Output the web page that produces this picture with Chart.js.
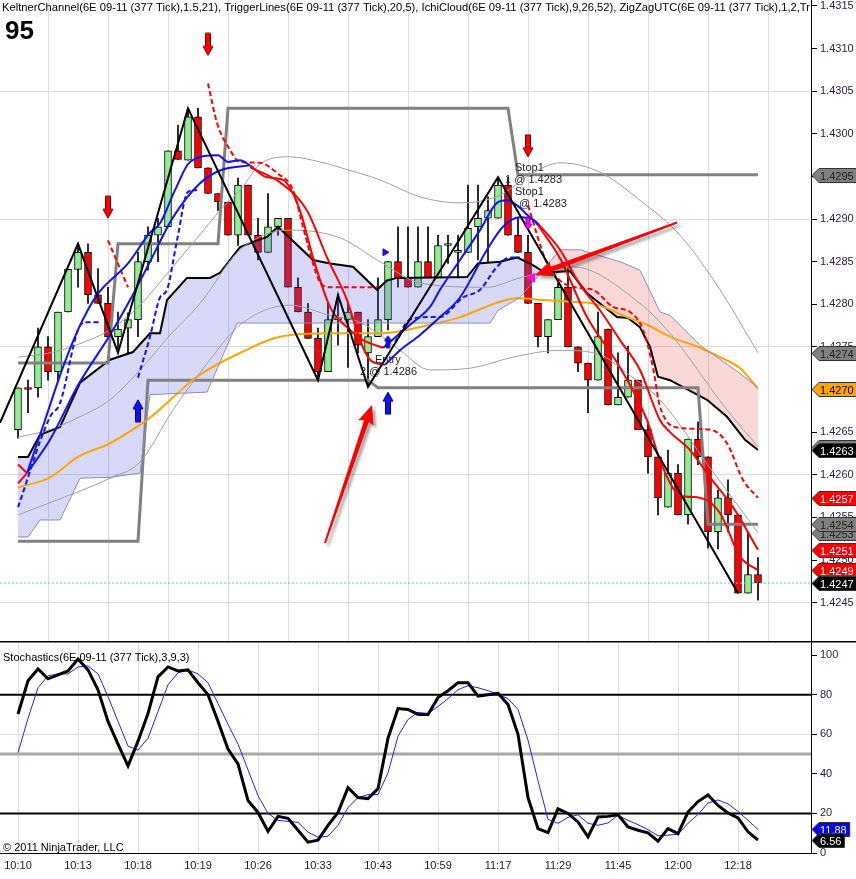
<!DOCTYPE html>
<html>
<head>
<meta charset="utf-8">
<script src="https://cdn.jsdelivr.net/npm/chart.js@4.4.0/dist/chart.umd.min.js"></script>
<style>
html, body { margin: 0; padding: 0; background: #fff; }
#wrap { position: relative; width: 856px; height: 879px; overflow: hidden; background: #fff; }
#priceChart { position: absolute; left: 0; top: 0; }
#stochChart { position: absolute; left: 0; top: 641px; }
</style>
</head>
<body>
<div id="wrap">
  <canvas id="priceChart" width="856" height="641"></canvas>
  <canvas id="stochChart" width="856" height="238"></canvas>
</div>
<script>
'use strict';
// candles (377 tick bars)
const barOpen = [
  1.42653,1.42702,1.42702,1.42750,1.42721,1.42791,1.42841,1.42861,1.42811,1.42801,
  1.42762,1.42772,1.42782,1.42850,1.42881,1.42891,1.42980,1.42969,1.43020,1.42960,
  1.42930,1.42920,1.42881,1.42940,1.42881,1.42861,1.42891,1.42901,1.42820,1.42791,
  1.42760,1.42721,1.42782,1.42782,1.42791,1.42743,1.42762,1.42782,1.42850,1.42831,
  1.42820,1.42850,1.42831,1.42869,1.42861,1.42861,1.42891,1.42901,1.42901,1.42940,
  1.42881,1.42861,1.42801,1.42762,1.42782,1.42820,1.42750,1.42731,1.42711,1.42771,
  1.42682,1.42691,1.42711,1.42653,1.42621,1.42562,1.42602,1.42553,1.42642,1.42621,
  1.42533,1.42573,1.42553,1.42461,1.42483];
const barHigh = [
  1.42702,1.42711,1.42772,1.42762,1.42791,1.42841,1.42871,1.42871,1.42842,1.42820,
  1.42791,1.42790,1.42861,1.42891,1.42901,1.42980,1.43010,1.43030,1.43030,1.42960,
  1.42930,1.42920,1.42948,1.42940,1.42901,1.42930,1.42901,1.42901,1.42831,1.42801,
  1.42772,1.42801,1.42811,1.42801,1.42791,1.42782,1.42831,1.42850,1.42891,1.42891,
  1.42891,1.42891,1.42881,1.42881,1.42881,1.42940,1.42940,1.42926,1.42949,1.42949,
  1.42901,1.42881,1.42801,1.42782,1.42825,1.42842,1.42750,1.42731,1.42791,1.42771,
  1.42743,1.42751,1.42711,1.42662,1.42621,1.42629,1.42612,1.42642,1.42662,1.42621,
  1.42582,1.42594,1.42553,1.42533,1.42503];
const barLow = [
  1.42643,1.42673,1.42691,1.42711,1.42711,1.42791,1.42820,1.42801,1.42801,1.42762,
  1.42743,1.42743,1.42762,1.42840,1.42850,1.42891,1.42970,1.42969,1.42960,1.42930,
  1.42910,1.42881,1.42869,1.42881,1.42852,1.42861,1.42881,1.42820,1.42791,1.42760,
  1.42711,1.42721,1.42752,1.42726,1.42743,1.42703,1.42762,1.42770,1.42820,1.42820,
  1.42820,1.42831,1.42831,1.42848,1.42831,1.42861,1.42852,1.42850,1.42901,1.42881,
  1.42861,1.42801,1.42750,1.42743,1.42782,1.42750,1.42721,1.42673,1.42711,1.42682,
  1.42682,1.42691,1.42653,1.42602,1.42553,1.42562,1.42553,1.42542,1.42612,1.42514,
  1.42513,1.42533,1.42461,1.42461,1.42453];
const barClose = [
  1.42702,1.42700,1.42750,1.42721,1.42791,1.42841,1.42861,1.42811,1.42801,1.42762,
  1.42771,1.42782,1.42850,1.42881,1.42891,1.42980,1.42970,1.43020,1.42960,1.42930,
  1.42920,1.42881,1.42940,1.42881,1.42861,1.42891,1.42901,1.42820,1.42791,1.42760,
  1.42721,1.42782,1.42784,1.42791,1.42752,1.42762,1.42782,1.42850,1.42831,1.42820,
  1.42850,1.42831,1.42869,1.42870,1.42862,1.42889,1.42901,1.42910,1.42940,1.42881,
  1.42861,1.42801,1.42762,1.42782,1.42820,1.42750,1.42731,1.42711,1.42762,1.42682,
  1.42691,1.42711,1.42653,1.42621,1.42573,1.42602,1.42553,1.42642,1.42621,1.42533,
  1.42573,1.42553,1.42461,1.42483,1.42473];

// stochastics(3,9,3)
const stochK = [
  70.2,87,93,88,90,92,98,92.5,82.5,66.5, 55,44,56.5,70.5,89,94,92,92.5,86,80,
  66.5,52.5,45,26.5,20.5,11,18.5,17.5,11.5,5.5, 6.5,14,20.5,33,28,27.5,32.5,58,73,72.5,
  70,70,78.5,82,86,86,79.3,80,80.7,75, 60,28,12.3,10.3,22.3,20,15.7,8.2,18.2,18.5,
  19.3,13.2,11.5,10.2,6,12.3,9.8,20.7,26,29.3, 24,20.2,17.7,10.7,6.56];
const stochD = [
  50.7,68,83.5,89.5,90.5,90.5,94,94.5,90.5,79, 66.5,54,52,58,71.5,85,91,92.5,90.5,86,
  75.5,65,55,42,29,20,16.5,16,15.5,10.5, 8,8.5,14,23,28,29.5,29.5,40.5,59,67.5,
  71,70.5,74,78,82.5,84.5,83.5,82,80.2,78, 72.5,57,36.5,17,15,18,19.3,15,14,15.2,
  19,16.5,14.3,11.8,8.7,9,9.5,15,19.5,25.2, 26.8,24.8,21,16.5,11.88];
const stochLevels = [80, 50, 20];

// axes
const timeLabels = ['10:10','10:13','10:18','10:19','10:26','10:33','10:43','10:59','11:17','11:29','11:45','12:00','12:18'];
const timeTickBars = [0, 6, 12, 18, 24, 30, 36, 42, 48, 54, 60, 66, 72];
const priceTicks = [1.4245,1.4250,1.4255,1.4260,1.4265,1.4270,1.4275,1.4280,1.4285,1.4290,1.4295,1.4300,1.4305,1.4310,1.4315];
const priceGrid = [1.4245, 1.4260, 1.4275, 1.4290, 1.4305];
const stochTicks = [0, 20, 40, 60, 80, 100];
const stochGrid = [60];

// indicator lines as [bar, price]
const keltUpper = [[0,1.42738],[3.2,1.42743],[6,1.42753],[9.2,1.42770],[12.2,1.42799],[15.2,1.42840],[18,1.42879],[20.2,1.42910],[22.2,1.42934],[24.5,1.42967],[27.2,1.42973],[30.2,1.42967],[33.2,1.42957],[36.2,1.42946],[40.2,1.42926],[44.2,1.42919],[48.2,1.42928],[51.2,1.42952],[54.2,1.42966],[58.2,1.42955],[62.2,1.42922],[66.2,1.42881],[70.2,1.42817],[74,1.42743]];
const keltMid = [[0,1.42644],[3.2,1.42653],[6,1.42667],[9.2,1.42688],[12.2,1.42723],[15.2,1.42764],[18.2,1.42801],[22.2,1.42864],[27.2,1.42887],[32.2,1.42878],[36.2,1.42850],[40.2,1.42825],[46.9,1.42820],[50.2,1.42831],[55.5,1.42844],[62.2,1.42801],[65.2,1.42766],[70.9,1.42676],[74,1.42633]];
const keltLower = [[0,1.42553],[6,1.42580],[9.2,1.42596],[12.2,1.42615],[15.5,1.42676],[19.2,1.42735],[22.2,1.42776],[27.2,1.42799],[31.2,1.42787],[34.2,1.42779],[38.2,1.42746],[41.2,1.42723],[45.2,1.42725],[49.5,1.42738],[54.2,1.42746],[58.2,1.42741],[60.9,1.42719],[64.2,1.42688],[69.2,1.42608],[74,1.42532]];
const spanA = [[0,1.42527],[1,1.42527],[2.2,1.42547],[4.2,1.42547],[6.2,1.42596],[9.2,1.42597],[12.2,1.42602],[13.2,1.42694],[18.9,1.42697],[21.9,1.42778],[47.2,1.42778],[48,1.42793],[50.2,1.42808],[51.5,1.42826],[54.2,1.42864],[56.2,1.42864],[60.2,1.42850],[62.2,1.42840],[64.2,1.42791],[65.2,1.42787],[68.2,1.42752],[72.2,1.42719],[74,1.42702]];
const spanB = [[0,1.42621],[1,1.42621],[2.2,1.42647],[4.2,1.42656],[6.2,1.42708],[9.2,1.42735],[11.5,1.42744],[13.2,1.42766],[14.2,1.42766],[14.9,1.42805],[16.9,1.42831],[19.2,1.42831],[20.2,1.42837],[22.2,1.42867],[23.5,1.42873],[24.9,1.42879],[26,1.42891],[29.5,1.42852],[31.2,1.42848],[33.5,1.42844],[35.9,1.42817],[36.9,1.42828],[37.9,1.42831],[44.9,1.42832],[46,1.42848],[48.2,1.42850],[49.9,1.42855],[51.5,1.42846],[52.7,1.42837],[55.2,1.42839],[56.9,1.42813],[58.2,1.42801],[59.9,1.42785],[61,1.42784],[62.2,1.42773],[63.2,1.42750],[64,1.42715],[65.2,1.42711],[68.9,1.42688],[70.9,1.42668],[72.7,1.42641],[74,1.42629]];
const orangeLine = [[0,1.42585],[3.2,1.42597],[6,1.42621],[9.2,1.42637],[13.2,1.42667],[17.9,1.42715],[22.2,1.42743],[26.2,1.42762],[31.2,1.42766],[36.2,1.42766],[41.2,1.42776],[44.2,1.42785],[48.2,1.42803],[49.9,1.42807],[52.7,1.42805],[55.2,1.42803],[57.5,1.42801],[60.9,1.42785],[62.9,1.42776],[65.2,1.42762],[68.2,1.42749],[70.2,1.42738],[72.2,1.42725],[74,1.42701]];
const upperBand = [[0,1.42731],[9,1.42731],[10,1.42871],[20,1.42871],[21,1.43030],[49,1.43030],[50,1.42952],[74,1.42952]];
const lowerBand = [[0,1.42522],[12,1.42522],[13,1.42711],[35,1.42711],[36,1.42702],[68,1.42702],[69,1.42542],[74,1.42542]];
const zigzag = [[-1.8,1.42661],[6,1.42871],[10,1.42743],[17,1.43030],[30,1.42711],[32,1.42811],[35,1.42703],[48,1.42949],[72,1.42461]];

// trigger lines, split where the colour flips
const redA0 = [[0,1.42612],[0.9,1.42602]];
const redB0 = [[0,1.42590],[0.9,1.42602]];
const blueA1 = [[0.9,1.42602],[2.7,1.42664],[4.4,1.42723],[6,1.42770],[7.9,1.42811],[11,1.42848],[13.2,1.42884],[14.2,1.42895],[15.7,1.42934],[17.2,1.42967],[20,1.42975],[21,1.42967],[22.2,1.42969],[23.2,1.42963]];
const blueB1 = [[0.9,1.42602],[3.2,1.42641],[6,1.42705],[9.2,1.42764],[11.2,1.42805],[13.2,1.42850],[15.5,1.42902],[18.2,1.42942],[20.2,1.42957],[23.2,1.42963]];
const redA1 = [[23.2,1.42963],[24.9,1.42949],[26.5,1.42946],[28.2,1.42910],[29.5,1.42855],[31.2,1.42797],[32.9,1.42773],[34.5,1.42758],[36.5,1.42749]];
const redB1 = [[23.2,1.42961],[26.2,1.42943],[28.9,1.42910],[30.9,1.42855],[32.9,1.42805],[34.2,1.42758],[35.2,1.42735],[36.7,1.42729]];
const blueA2 = [[36.5,1.42749],[39.2,1.42776],[41.2,1.42797],[42.2,1.42817],[44.2,1.42852],[46.2,1.42887],[47.9,1.42919],[48.9,1.42922],[49.9,1.42916],[51.2,1.42902],[51.9,1.42896]];
const blueB2 = [[36.7,1.42729],[38.2,1.42746],[40.2,1.42764],[42.2,1.42785],[44.2,1.42808],[46.9,1.42864],[48.5,1.42891],[50.2,1.42902],[51.5,1.42899],[52,1.42893]];
const redA2 = [[51.9,1.42896],[54.2,1.42864],[56.2,1.42823],[58.2,1.42793],[60.2,1.42758],[62.2,1.42723],[64.2,1.42664],[65.2,1.42650],[67.2,1.42629],[69.2,1.42597],[71.5,1.42562],[74,1.42512]];
const redB2 = [[52,1.42893],[54.2,1.42854],[56.9,1.42785],[60.2,1.42726],[62.9,1.42664],[64.2,1.42617],[66.2,1.42576],[68.2,1.42573],[70.2,1.42555],[72.2,1.42504],[74,1.42488]];
const blueDash1 = [[0,1.42562],[3.2,1.42668],[4.2,1.42684],[6,1.42770],[6.7,1.42779],[8.2,1.42779]];
const redDash1 = [[9,1.42875],[11,1.42820]];
const blueDash2 = [[12,1.42714],[13.2,1.42762],[14.2,1.42808],[14.9,1.42817],[15.9,1.42875],[17,1.42932],[17.9,1.42934]];
const redDash2 = [[19,1.43059],[19.9,1.43013],[21.2,1.42981],[22.2,1.42967],[24.2,1.42966],[25.9,1.42954],[27.5,1.42934],[28.5,1.42891],[29.5,1.42848],[30.2,1.42826],[31.2,1.42820],[35.9,1.42820]];
const blueDash3 = [[37.7,1.42756],[39.2,1.42782],[41.2,1.42785],[42.2,1.42785],[44.5,1.42808],[46.2,1.42817],[47.9,1.42844],[49.2,1.42855],[50.2,1.42855]];
const redDash3 = [[51,1.42916],[52.9,1.42848],[54.2,1.42828],[56.2,1.42819],[57.5,1.42817],[59.5,1.42797],[61.2,1.42791],[62.5,1.42770],[63.5,1.42726],[64.2,1.42680],[66.2,1.42655],[69.2,1.42653],[70.9,1.42637],[72.5,1.42594],[74,1.42573]];

// signals and markers
const sellArrows = [[19,1.43105],[9,1.42914],[51,1.42986]];
const buyArrows = [[12,1.42675],[37,1.42684]];
const entryArrow = [[37,1.42756]];
const stopArrow = [[51,1.42895]];
const stopMark = [[51.4,1.42831]];
const entryMark = [[36.7,1.42861]];
const notes = [['Stop1',49.7,1.42960],['1 @ 1.4283',48.7,1.42946],['Stop1',49.7,1.42932],['@ 1.4283',50.1,1.42918],['Entry',35.7,1.42735],['2 @ 1.4286',34.2,1.42721]];
const bigArrows = [[30.7,1.42520,35.4,1.42682],[65.9,1.42896,51.7,1.42834]];

const headerText = 'KeltnerChannel(6E 09-11 (377 Tick),1.5,21), TriggerLines(6E 09-11 (377 Tick),20,5), IchiCloud(6E 09-11 (377 Tick),9,26,52), ZigZagUTC(6E 09-11 (377 Tick),1,2,Tr';

Chart.defaults.font.family = 'Arial, "Liberation Sans", sans-serif';
Chart.defaults.font.size = 11;

const X_MIN = -1.8, X_MAX = 79.3;
const pts = arr => arr.map(([x, y]) => ({x, y}));
const last = arr => arr[arr.length - 1][1];
const lastClose = barClose[barClose.length - 1];

const line = (data, color, width, extra) => Object.assign({
  type: 'line', data: pts(data), borderColor: color, borderWidth: width,
  pointRadius: 0, pointHoverRadius: 0, fill: false, cubicInterpolationMode: 'monotone', order: 2
}, extra);

const arrowImage = (fill, stroke, up, w, h) => {
  const c = document.createElement('canvas');
  c.width = w + 2; c.height = h + 2;
  const g = c.getContext('2d');
  g.translate(1, 1);
  if (up) { g.translate(0, h); g.scale(1, -1); }
  const s = w * 0.25, m = w / 2, hh = Math.round(h * 0.42);
  g.beginPath();
  g.moveTo(m - s, 0); g.lineTo(m + s, 0); g.lineTo(m + s, h - hh); g.lineTo(w, h - hh);
  g.lineTo(m, h); g.lineTo(0, h - hh); g.lineTo(m - s, h - hh); g.closePath();
  g.fillStyle = fill; g.fill();
  g.strokeStyle = stroke; g.lineWidth = 1; g.stroke();
  return c;
};

const markers = (data, style, extra) => Object.assign({
  type: 'line', data: pts(data), showLine: false, pointStyle: style,
  pointRadius: 5, pointHoverRadius: 5, order: 0
}, extra);

const drawTag = (ctx, x0, y, text, fill, textColor) => {
  ctx.save();
  ctx.font = '11px Arial, "Liberation Sans", sans-serif';
  const w = ctx.measureText(text).width;
  ctx.beginPath();
  ctx.moveTo(x0, y);
  ctx.lineTo(x0 + 7, y - 7);
  ctx.lineTo(x0 + 11 + w, y - 7);
  ctx.lineTo(x0 + 11 + w, y + 7);
  ctx.lineTo(x0 + 7, y + 7);
  ctx.closePath();
  ctx.fillStyle = fill; ctx.fill();
  ctx.strokeStyle = '#333'; ctx.lineWidth = 1; ctx.stroke();
  ctx.fillStyle = textColor; ctx.textBaseline = 'middle'; ctx.textAlign = 'left';
  ctx.fillText(text, x0 + 8, y + 1);
  ctx.restore();
};

const drawBigArrow = (ctx, x0, y0, x1, y1) => {
  const ang = Math.atan2(y1 - y0, x1 - x0);
  const len = Math.hypot(x1 - x0, y1 - y0);
  ctx.save();
  ctx.translate(x0, y0);
  ctx.rotate(ang);
  ctx.shadowColor = 'rgba(0,0,0,0.35)';
  ctx.shadowOffsetX = 3; ctx.shadowOffsetY = 3; ctx.shadowBlur = 3;
  ctx.beginPath();
  ctx.moveTo(0, -1);
  ctx.lineTo(len - 17, -2.5);
  ctx.lineTo(len - 19, -8);
  ctx.lineTo(len, 0);
  ctx.lineTo(len - 19, 8);
  ctx.lineTo(len - 17, 2.5);
  ctx.lineTo(0, 1);
  ctx.closePath();
  ctx.fillStyle = '#ff0000';
  ctx.fill();
  ctx.restore();
};

const priceTags = [
  [last(upperBand), '#808080', '#222'],
  [last(keltUpper), '#808080', '#222'],
  [last(orangeLine), '#ffa500', '#000'],
  [last(keltMid), '#808080', '#222'],
  [last(spanB), '#000000', '#fff'],
  [last(redDash3), '#ff0000', '#fff'],
  [last(keltLower), '#808080', '#222'],
  [last(lowerBand), '#808080', '#222'],
  [last(redA2), '#ff0000', '#fff'],
  [last(redB2), '#ff0000', '#fff'],
  [lastClose, '#000000', '#fff']
];

const priceDecor = {
  id: 'priceDecor',
  afterDatasetsDraw(chart) {
    const {ctx, scales: {x, y}} = chart;
    bigArrows.forEach(([i0, p0, i1, p1]) =>
      drawBigArrow(ctx, x.getPixelForValue(i0), y.getPixelForValue(p0), x.getPixelForValue(i1), y.getPixelForValue(p1)));
    ctx.save();
    ctx.font = '11px Arial, "Liberation Sans", sans-serif';
    ctx.fillStyle = '#222';
    ctx.textBaseline = 'middle';
    notes.forEach(([t, i, p]) => ctx.fillText(t, x.getPixelForValue(i), y.getPixelForValue(p)));
    ctx.restore();
  },
  afterDraw(chart) {
    const {ctx, chartArea, scales: {y}} = chart;
    ctx.save();
    ctx.beginPath(); ctx.rect(0, 0, chartArea.right, 18); ctx.clip();
    ctx.font = '11px Arial, "Liberation Sans", sans-serif';
    const w = ctx.measureText(headerText).width;
    ctx.translate(2, 0);
    ctx.scale((chartArea.right - 3) / w, 1);
    ctx.fillStyle = '#000';
    ctx.textBaseline = 'middle';
    ctx.fillText(headerText, 0, 8);
    ctx.restore();

    ctx.save();
    ctx.font = 'bold 26px Arial, "Liberation Sans", sans-serif';
    ctx.fillStyle = '#000';
    ctx.textBaseline = 'alphabetic';
    ctx.fillText('95', 5, 39);
    ctx.restore();

    priceTags.forEach(([v, fill, txt]) =>
      drawTag(ctx, chartArea.right + 1, Math.round(y.getPixelForValue(v)) + 0.5, v.toFixed(4), fill, txt));
  }
};

const stochDecor = {
  id: 'stochDecor',
  afterDraw(chart) {
    const {ctx, chartArea, scales: {y}} = chart;
    ctx.save();
    ctx.fillStyle = '#000';
    ctx.fillRect(0, 0, 856, 1.5);
    ctx.font = '11px Arial, "Liberation Sans", sans-serif';
    ctx.textBaseline = 'middle';
    ctx.fillText('Stochastics(6E 09-11 (377 Tick),3,9,3)', 3, 17);
    ctx.fillText('\u00a9 2011 NinjaTrader, LLC', 3, 207);
    ctx.restore();
    const kLast = stochK[stochK.length - 1], dLast = stochD[stochD.length - 1];
    drawTag(ctx, chartArea.right + 1, Math.round(y.getPixelForValue(dLast)) + 0.5, dLast.toFixed(2), '#0000ff', '#fff');
    drawTag(ctx, chartArea.right + 1, Math.round(y.getPixelForValue(kLast)) + 0.5, kLast.toFixed(2), '#000000', '#fff');
  }
};

const isUp = barClose.map((c, i) => c >= barOpen[i]);

const xScale = (extra) => Object.assign({
  type: 'linear', min: X_MIN, max: X_MAX, offset: false,
  afterBuildTicks: ax => { ax.ticks = timeTickBars.map(v => ({value: v})); },
  grid: {color: '#dcdcdc', drawTicks: false}
}, extra);

new Chart(document.getElementById('priceChart'), {
  type: 'line',
  data: {
    datasets: [
      line(spanA, '#8c8cb4', 1, {order: 3, cubicInterpolationMode: 'default', tension: 0}),
      line(spanB, '#000000', 2, {order: 4, cubicInterpolationMode: 'default', tension: 0,
        fill: {target: 0, above: 'rgba(90,90,230,0.24)', below: 'rgba(235,90,90,0.24)'}}),
      line(keltUpper, '#a0a0a0', 1, {order: 3}),
      line(keltMid, '#a0a0a0', 1, {order: 3}),
      line(keltLower, '#a0a0a0', 1, {order: 3}),
      line(orangeLine, '#ffa500', 2, {order: 3}),
      line(upperBand, '#808080', 3, {order: 3, cubicInterpolationMode: 'default', tension: 0}),
      line(lowerBand, '#808080', 3, {order: 3, cubicInterpolationMode: 'default', tension: 0}),
      line(redA0, '#ff0000', 2),
      line(redB0, '#ff0000', 2),
      line(blueA1, '#1010ff', 2),
      line(blueB1, '#1010ff', 2),
      line(redA1, '#ff0000', 2),
      line(redB1, '#ff0000', 2),
      line(blueA2, '#1010ff', 2),
      line(blueB2, '#1010ff', 2),
      line(redA2, '#ff0000', 2),
      line(redB2, '#ff0000', 2),
      line(blueDash1, '#1010ff', 2, {borderDash: [5, 3]}),
      line(redDash1, '#ff0000', 2, {borderDash: [5, 3]}),
      line(blueDash2, '#1010ff', 2, {borderDash: [5, 3]}),
      line(redDash2, '#ff0000', 2, {borderDash: [5, 3]}),
      line(blueDash3, '#1010ff', 2, {borderDash: [5, 3]}),
      line(redDash3, '#ff0000', 2, {borderDash: [5, 3]}),
      line(zigzag, '#000000', 2, {order: 1, cubicInterpolationMode: 'default', tension: 0}),
      line([[X_MIN, lastClose], [X_MAX, lastClose]], '#58c8dc', 1, {order: 1, borderDash: [2, 2]}),
      markers(sellArrows, arrowImage('#ff0000', '#700000', false, 10, 22)),
      markers(buyArrows, arrowImage('#1010ff', '#000070', true, 10, 22)),
      markers(entryArrow, arrowImage('#1010ff', '#000070', true, 7, 12)),
      markers(stopArrow, arrowImage('#ff00ff', '#800080', false, 8, 12)),
      markers(stopMark, 'triangle', {pointRotation: 270, pointRadius: 5, backgroundColor: '#ff00ff', borderColor: '#ff00ff'}),
      markers(entryMark, 'triangle', {pointRotation: 90, pointRadius: 4, backgroundColor: '#1010ff', borderColor: '#1010ff'}),
      {
        type: 'bar', order: 10, grouped: false,
        data: barOpen.map((o, i) => ({x: i, y: [o, barClose[i]]})),
        backgroundColor: isUp.map(u => u ? '#90ee90' : '#ff0000'),
        borderColor: '#000', borderWidth: 1, borderSkipped: false,
        barThickness: 7, minBarLength: 2
      },
      {
        type: 'bar', order: 11, grouped: false,
        data: barLow.map((l, i) => ({x: i, y: [l, barHigh[i]]})),
        backgroundColor: '#000', borderWidth: 0, barThickness: 1
      }
    ]
  },
  options: {
    responsive: false, animation: false, devicePixelRatio: 1, events: [],
    layout: {padding: 0, autoPadding: false},
    plugins: {legend: {display: false}, tooltip: {enabled: false}},
    scales: {
      x: xScale({
        afterFit: ax => { ax.height = 0; ax.paddingLeft = 0; ax.paddingRight = 0; },
        ticks: {display: false},
        border: {display: false}
      }),
      y: {
        type: 'linear', position: 'right', min: 1.42405, max: 1.43157,
        afterBuildTicks: ax => { ax.ticks = priceTicks.map(v => ({value: v})); },
        afterFit: ax => { ax.width = 45; ax.paddingTop = 0; ax.paddingBottom = 0; },
        ticks: {callback: v => v.toFixed(4), color: '#2a1a40', padding: 3, font: {size: 11}},
        grid: {
          color: c => (c.tick && priceGrid.some(g => Math.abs(g - c.tick.value) < 1e-7)) ? '#dcdcdc' : 'rgba(0,0,0,0)',
          tickColor: '#000', tickLength: 6
        },
        border: {display: true, color: '#000'}
      }
    }
  },
  plugins: [priceDecor]
});

new Chart(document.getElementById('stochChart'), {
  type: 'line',
  data: {
    datasets: [
      ...stochLevels.map(v => ({
        type: 'line', data: [{x: X_MIN, y: v}, {x: X_MAX, y: v}],
        borderColor: v === 50 ? '#a8a8a8' : '#000', borderWidth: v === 50 ? 3 : 2,
        pointRadius: 0, pointHoverRadius: 0, order: 3
      })),
      {type: 'line', data: stochD.map((v, i) => ({x: i, y: v})), borderColor: '#2020ff', borderWidth: 1, pointRadius: 0, pointHoverRadius: 0, order: 2},
      {type: 'line', data: stochK.map((v, i) => ({x: i, y: v})), borderColor: '#000', borderWidth: 3, pointRadius: 0, pointHoverRadius: 0, order: 1}
    ]
  },
  options: {
    responsive: false, animation: false, devicePixelRatio: 1, events: [],
    layout: {padding: {top: 1, left: 0, right: 0, bottom: 0}, autoPadding: false},
    plugins: {legend: {display: false}, tooltip: {enabled: false}},
    scales: {
      x: xScale({
        afterFit: ax => { ax.height = 26; ax.paddingLeft = 0; ax.paddingRight = 0; },
        ticks: {callback: v => timeLabels[timeTickBars.indexOf(v)], color: '#1a1a2e', padding: 6, maxRotation: 0, autoSkip: false, font: {size: 11}},
        border: {display: true, color: '#000'}
      }),
      y: {
        type: 'linear', position: 'right', min: 0, max: 106.6,
        afterBuildTicks: ax => { ax.ticks = stochTicks.map(v => ({value: v})); },
        afterFit: ax => { ax.width = 45; ax.paddingTop = 0; ax.paddingBottom = 0; },
        ticks: {color: '#2a1a40', padding: 3, font: {size: 11}},
        grid: {
          color: c => (c.tick && stochGrid.includes(c.tick.value)) ? '#dcdcdc' : 'rgba(0,0,0,0)',
          tickColor: '#000', tickLength: 6
        },
        border: {display: true, color: '#000'}
      }
    }
  },
  plugins: [stochDecor]
});
</script>
</body>
</html>
